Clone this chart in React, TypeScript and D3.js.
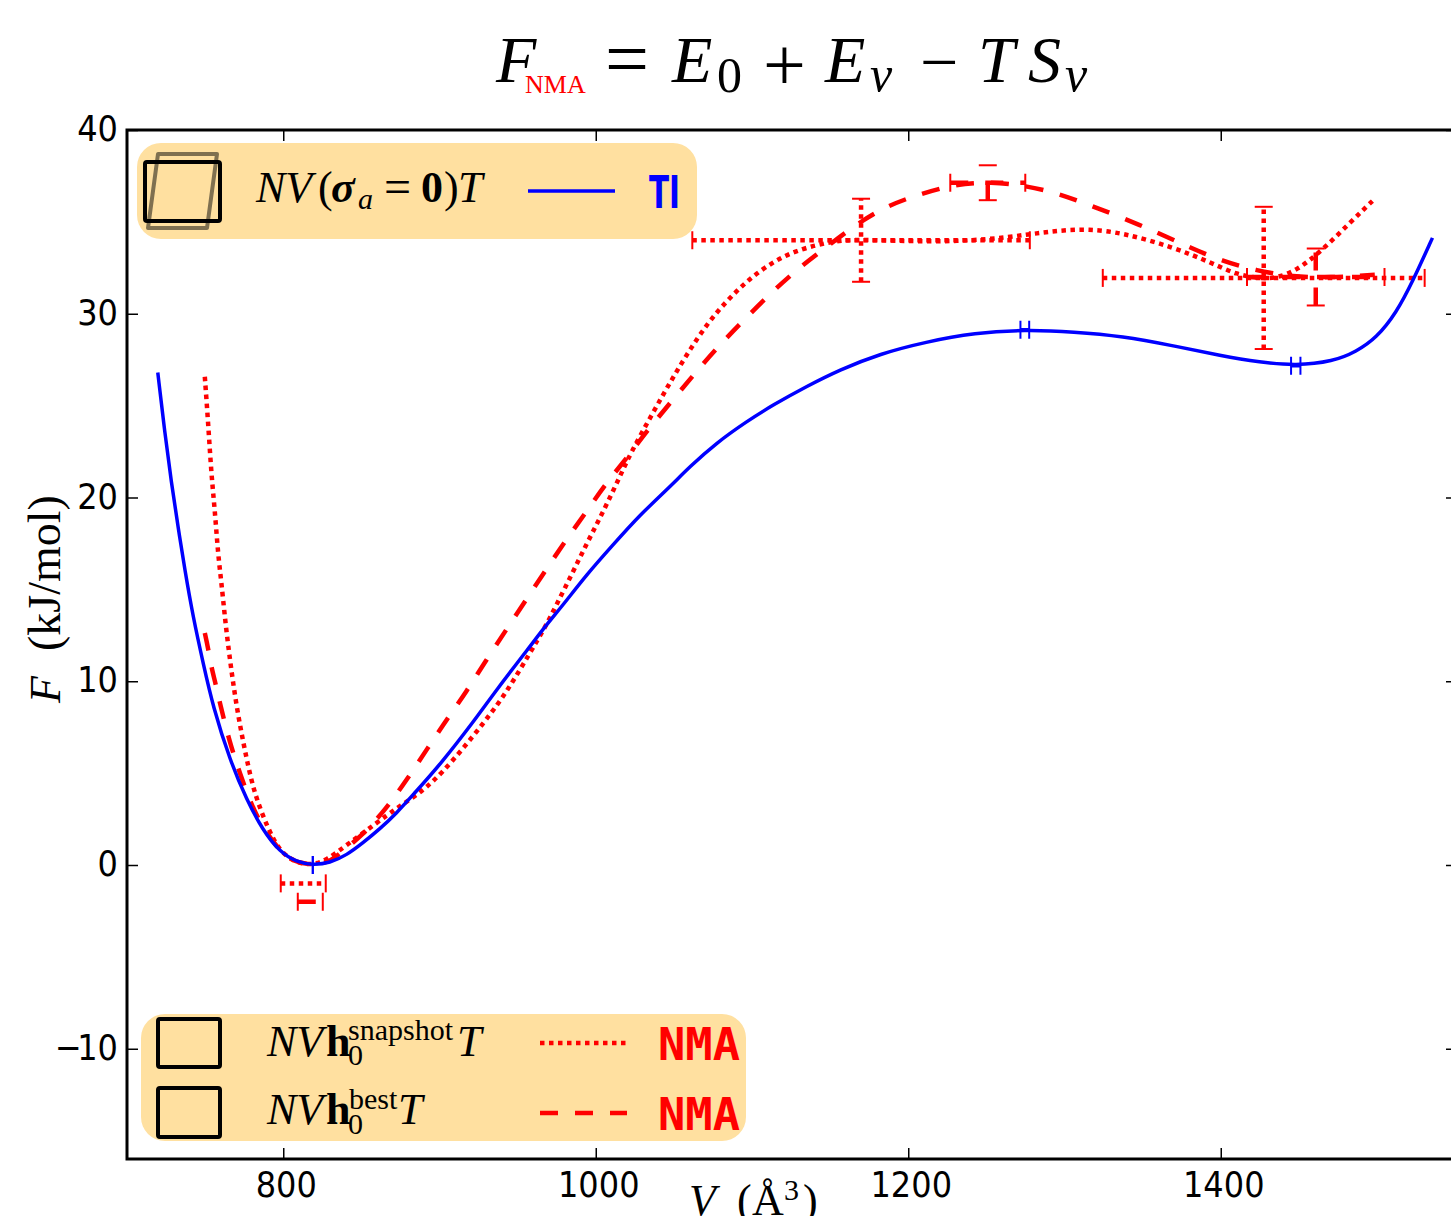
import React, { useRef, useEffect } from 'react';
import * as d3 from 'd3';

type Pt = [number, number];
type ErrBar = { v: number; f: number; xerr: number; yerr: number };

const tiCurve: Pt[] = [
  [719.7, 26.8], [724.2, 23.52], [728.4, 20.8], [732.7, 18.4], [737, 16.06], [742.3, 13.5],
  [748.7, 11], [755.1, 8.6], [765.8, 5.72], [776.6, 3.54], [786.9, 1.9], [797.8, 0.71],
  [808.6, 0.16], [818.9, 0], [829.8, 0.11], [840.6, 0.54], [850.9, 1.2], [861.8, 1.96],
  [872.6, 2.83], [882.9, 3.81], [900.2, 5.44], [922.6, 7.89], [936.4, 9.53], [957.8, 11.88],
  [968.4, 13.07], [979.1, 14.15], [994, 15.79], [1011, 17.42], [1028.2, 19.05], [1047.4, 20.58],
  [1060.2, 21.68], [1077.2, 22.97], [1096.4, 24.13], [1113.5, 25.04], [1134.8, 26.04], [1156.2, 26.95],
  [1181.8, 27.82], [1211.2, 28.47], [1242.6, 28.96], [1274.6, 29.13], [1306, 29.02], [1337.3, 28.78],
  [1368.7, 28.28], [1400.6, 27.7], [1425, 27.36], [1448, 27.17], [1471.9, 27.4], [1486.8, 27.94],
  [1499.6, 28.68], [1512.4, 30.05], [1522.9, 31.77], [1535.5, 34.13],
];

const snapshotCurve: Pt[] = [
  [749.8, 26.57], [751.9, 24.12], [754, 21.23], [756.2, 19.33], [758.3, 16.88], [760.4, 15.41],
  [762.6, 13.5], [765.3, 11.54], [770, 8.6], [776.6, 5.72], [781.8, 3.81], [790.1, 2.01],
  [797.8, 0.71], [808.6, 0.11], [818.9, 0], [827.8, 0.27], [840.6, 1.09], [859.8, 2.29],
  [872.6, 3.1], [882.9, 3.65], [900.2, 4.79], [930, 7.89], [943.9, 9.53], [957.8, 11.54],
  [967.4, 12.9], [974.8, 14.15], [985.1, 15.9], [992.9, 17.26], [1000.4, 18.51], [1007.9, 19.78],
  [1015.4, 21.14], [1022.8, 22.5], [1036.5, 24.6], [1047.4, 26.24], [1058.9, 27.87], [1071.7, 29.51],
  [1083.6, 30.67], [1095.4, 31.68], [1108.8, 32.57], [1124.2, 33.32], [1141.2, 33.75], [1156.2, 33.99],
  [1169, 34.03], [1192.6, 33.97], [1220.2, 33.92], [1250.2, 34.03], [1275.8, 34.3], [1295, 34.52],
  [1315.5, 34.62], [1337.3, 34.4], [1368.7, 33.65], [1394.2, 32.77], [1410.2, 32.12], [1426.2, 31.9],
  [1435.8, 31.96], [1448.6, 32.34], [1465.3, 33.48], [1482.6, 34.95], [1498.6, 36.26],
];

const bestCurve: Pt[] = [
  [749.8, 12.63], [751.9, 11.81], [754.1, 10.72], [756.6, 9.91], [759.4, 8.82], [765.8, 6.64],
  [772.2, 5.01], [781.8, 2.72], [795.8, 0.93], [806.1, 0.16], [818.9, 0], [829.8, 0.16],
  [836.2, 0.65], [850.9, 1.63], [866.2, 3.1], [879, 4.63], [892.5, 6.37], [904.4, 7.89],
  [917.2, 9.43], [930, 11.16], [942.4, 12.76], [954.6, 14.33], [967.4, 15.97], [980.2, 17.6],
  [993.6, 19.18], [1006.8, 20.8], [1020.7, 22.23], [1032.4, 23.59], [1049.3, 25.31], [1064.4, 26.86],
  [1079.4, 28.31], [1095.4, 29.71], [1111.4, 31.07], [1128.5, 32.39], [1145.3, 33.48], [1164.5, 34.73],
  [1183.7, 35.77], [1205.5, 36.47], [1231, 37.07], [1252.2, 37.17], [1273.3, 37], [1295, 36.58],
  [1315.5, 35.93], [1337.3, 35.22], [1359.7, 34.41], [1380.8, 33.59], [1400.6, 32.88], [1423, 32.34],
  [1446, 32.01], [1469.7, 31.96], [1498.6, 32.12],
];

const tiBars: ErrBar[] = [
  { v: 818.9, f: 0, xerr: 0, yerr: 0 },
  { v: 1274.6, f: 29.13, xerr: 2.8, yerr: 0 },
  { v: 1448, f: 27.17, xerr: 3, yerr: 0 },
];
const snapshotBars: ErrBar[] = [
  { v: 812.8, f: -1, xerr: 14.4, yerr: 0 },
  { v: 1169.8, f: 34, xerr: 108, yerr: 2.26 },
  { v: 1427.5, f: 31.95, xerr: 103, yerr: 3.87 },
];
const bestBars: ErrBar[] = [
  { v: 817.3, f: -2, xerr: 8, yerr: 0 },
  { v: 1250.9, f: 37.13, xerr: 24, yerr: 0.95 },
  { v: 1460.8, f: 32, xerr: 44, yerr: 1.55 },
];

const xTicks = [800, 1000, 1200, 1400];
const yTicks = [-10, 0, 10, 20, 30, 40];

const W = 1451;
const H = 1216;
const SERIF = '"Liberation Serif", serif';
const SANS = '"DejaVu Sans", sans-serif';
const MONO = '"DejaVu Sans Mono", monospace';
const DOTTED = '4.5 4.5';
const DASHED = '18 17';
const LEGEND_FILL = '#ffe0a0';

const x = d3.scaleLinear().domain([700, 1548]).range([127, 1452]);
const y = d3.scaleLinear().domain([-16, 40]).range([1159, 130]);
// basis rounds off the small reading errors in the points
const curve = d3.line<Pt>().x(d => x(d[0])).y(d => y(d[1])).curve(d3.curveBasis);

const Bars = ({ bars, color, dash, width }: { bars: ErrBar[]; color: string; dash?: string; width: number }) => (
  <g stroke={color} fill="none">
    {bars.map((b, i) => (
      <g key={i}>
        {b.xerr > 0 && <line x1={x(b.v - b.xerr)} x2={x(b.v + b.xerr)} y1={y(b.f)} y2={y(b.f)} strokeWidth={width} strokeDasharray={dash} />}
        {b.yerr > 0 && <line x1={x(b.v)} x2={x(b.v)} y1={y(b.f - b.yerr)} y2={y(b.f + b.yerr)} strokeWidth={width} strokeDasharray={dash} />}
        {[-1, 1].map(s => (
          <line key={s} x1={x(b.v + s * b.xerr)} x2={x(b.v + s * b.xerr)} y1={y(b.f) - 9} y2={y(b.f) + 9} strokeWidth={2} />
        ))}
        {b.yerr > 0 && [-1, 1].map(s => (
          <line key={s} x1={x(b.v) - 9} x2={x(b.v) + 9} y1={y(b.f + s * b.yerr)} y2={y(b.f + s * b.yerr)} strokeWidth={2} />
        ))}
      </g>
    ))}
  </g>
);

// one piece of math text, placed by hand
const M = ({ at, base, size = 44, it, b, fill = '#000', children }: any) => (
  <text x={at} y={base} fontFamily={SERIF} fontSize={size} fontStyle={it ? 'italic' : 'normal'} fontWeight={b ? 'bold' : 'normal'} fill={fill}>
    {children}
  </text>
);

const App = () => {
  const axesRef = useRef<SVGGElement>(null);

  useEffect(() => {
    if (!axesRef.current) return;
    const g = d3.select(axesRef.current);
    g.selectAll('*').remove();

    const style = (a: d3.Selection<SVGGElement, unknown, null, undefined>) => {
      a.select('.domain').remove();
      a.selectAll('line').attr('stroke', '#000').attr('stroke-width', 1.5);
    };

    g.append('g').attr('transform', `translate(0,${1159})`)
      .call(d3.axisBottom(x).tickValues(xTicks).tickSize(-11).tickPadding(0).tickFormat(() => '') as any).call(style);
    g.append('g').attr('transform', `translate(0,${130})`)
      .call(d3.axisTop(x).tickValues(xTicks).tickSize(-11).tickFormat(() => '') as any).call(style);
    g.append('g').attr('transform', `translate(${127},0)`)
      .call(d3.axisLeft(y).tickValues(yTicks).tickSize(-11).tickFormat(() => '') as any).call(style);
    g.append('g').attr('transform', `translate(${1457},0)`)
      .call(d3.axisRight(y).tickValues(yTicks).tickSize(-11).tickFormat(() => '') as any).call(style);

    // tick labels, squeezed a little sideways like the reference
    xTicks.forEach(t => {
      g.append('text')
        .attr('transform', `translate(${x(t) + 3},${1197}) scale(0.89,1)`)
        .attr('text-anchor', 'middle')
        .attr('font-family', SANS).attr('font-size', 36)
        .text(String(t));
    });
    yTicks.forEach(t => {
      const label = g.append('text')
        .attr('transform', `translate(${118},${y(t) + 11}) scale(0.89,1)`)
        .attr('text-anchor', 'end')
        .attr('font-family', SANS).attr('font-size', 36);
      if (t < 0) {
        label.append('tspan').text('\u2212');
        label.append('tspan').attr('dx', -5).text(String(-t));
      } else {
        label.text(String(t));
      }
    });
  }, []);

  return (
    <svg width={W} height={H} style={{ position: 'absolute', left: 0, top: 0, background: '#fff' }}>
      <g ref={axesRef} />

      {/* spines */}
      <path d={`M1451,130H127V1159H1451`} fill="none" stroke="#000" strokeWidth={3} />

      {/* curves */}
      <path d={curve(snapshotCurve) || ''} fill="none" stroke="#ff0000" strokeWidth={4.5} strokeDasharray={DOTTED} />
      <path d={curve(bestCurve) || ''} fill="none" stroke="#ff0000" strokeWidth={4.5} strokeDasharray={DASHED} />
      <Bars bars={snapshotBars} color="#ff0000" dash={DOTTED} width={4.5} />
      <Bars bars={bestBars} color="#ff0000" dash={DASHED} width={4.5} />
      <path d={curve(tiCurve) || ''} fill="none" stroke="#0000ff" strokeWidth={3.5} />
      <Bars bars={tiBars} color="#0000ff" width={3.5} />

      {/* title */}
      <M at={496} base={82} size={66} it>F</M>
      <M at={525} base={93} size={26} fill="#ff0000">NMA</M>
      <M at={605} base={85} size={78}>=</M>
      <M at={672} base={82} size={66} it>E</M>
      <M at={717} base={92} size={50}>0</M>
      <M at={763} base={90} size={76}>+</M>
      <M at={825} base={82} size={66} it>E</M>
      <M at={870} base={91} size={50} it>v</M>
      <M at={920} base={85} size={68}>{'\u2212'}</M>
      <M at={978} base={82} size={66} it>T</M>
      <M at={1028} base={82} size={66} it>S</M>
      <M at={1065} base={91} size={50} it>v</M>

      {/* top legend */}
      <rect x={137} y={143} width={560} height={96} rx={24} fill={LEGEND_FILL} />
      <path d="M158,154H217L207,228H148Z" fill="none" stroke="#000" strokeOpacity={0.5} strokeWidth={4} strokeLinejoin="round" />
      <rect x={145} y={162} width={75} height={59} rx={2} fill="none" stroke="#000" strokeWidth={4} />
      <M at={256} base={202} it>NV</M>
      <M at={318} base={202}>(</M>
      <M at={331} base={202} b it>{'\u03c3'}</M>
      <M at={358} base={209} size={30} it>a</M>
      <M at={384} base={203} size={48}>=</M>
      <M at={421} base={202} b>0</M>
      <M at={444} base={202}>)</M>
      <M at={458} base={202} it>T</M>
      <line x1={528} x2={615} y1={191} y2={191} stroke="#0000ff" strokeWidth={3.5} />
      <text x={649} y={208} fontFamily={SANS} fontWeight="bold" fontSize={45} fill="#0000ff" textLength={31} lengthAdjust="spacingAndGlyphs">TI</text>

      {/* bottom legend */}
      <rect x={141} y={1014} width={605} height={127} rx={24} fill={LEGEND_FILL} />
      <rect x={158} y={1019} width={62} height={48} rx={2} fill="none" stroke="#000" strokeWidth={4} />
      <rect x={158} y={1088} width={62} height={49} rx={2} fill="none" stroke="#000" strokeWidth={4} />

      <M at={267} base={1056} it>NV</M>
      <M at={326} base={1056} b>h</M>
      <M at={348} base={1040} size={30}>snapshot</M>
      <M at={348} base={1065} size={30}>0</M>
      <M at={457} base={1056} it>T</M>
      <line x1={540} x2={626} y1={1043} y2={1043} stroke="#ff0000" strokeWidth={4.5} strokeDasharray={DOTTED} />
      <text x={658} y={1060} fontFamily={MONO} fontWeight="bold" fontSize={44} fill="#ff0000" textLength={82} lengthAdjust="spacingAndGlyphs">NMA</text>

      <M at={267} base={1124} it>NV</M>
      <M at={326} base={1124} b>h</M>
      <M at={349} base={1109} size={30}>best</M>
      <M at={348} base={1134} size={30}>0</M>
      <M at={398} base={1124} it>T</M>
      <line x1={540} x2={627} y1={1113} y2={1113} stroke="#ff0000" strokeWidth={4.5} strokeDasharray={DASHED} />
      <text x={658} y={1130} fontFamily={MONO} fontWeight="bold" fontSize={44} fill="#ff0000" textLength={82} lengthAdjust="spacingAndGlyphs">NMA</text>

      {/* axis labels */}
      <M at={689} base={1215} it>V</M>
      <M at={737} base={1215}>(</M>
      <M at={752} base={1215}>{'\u00c5'}</M>
      <M at={784} base={1200} size={30}>3</M>
      <M at={803} base={1215}>)</M>
      <g transform="translate(60,703) rotate(-90)">
        <M at={0} base={0} it>F</M>
        <M at={52} base={0} size={46}>(kJ/mol)</M>
      </g>
    </svg>
  );
};

export default App;
